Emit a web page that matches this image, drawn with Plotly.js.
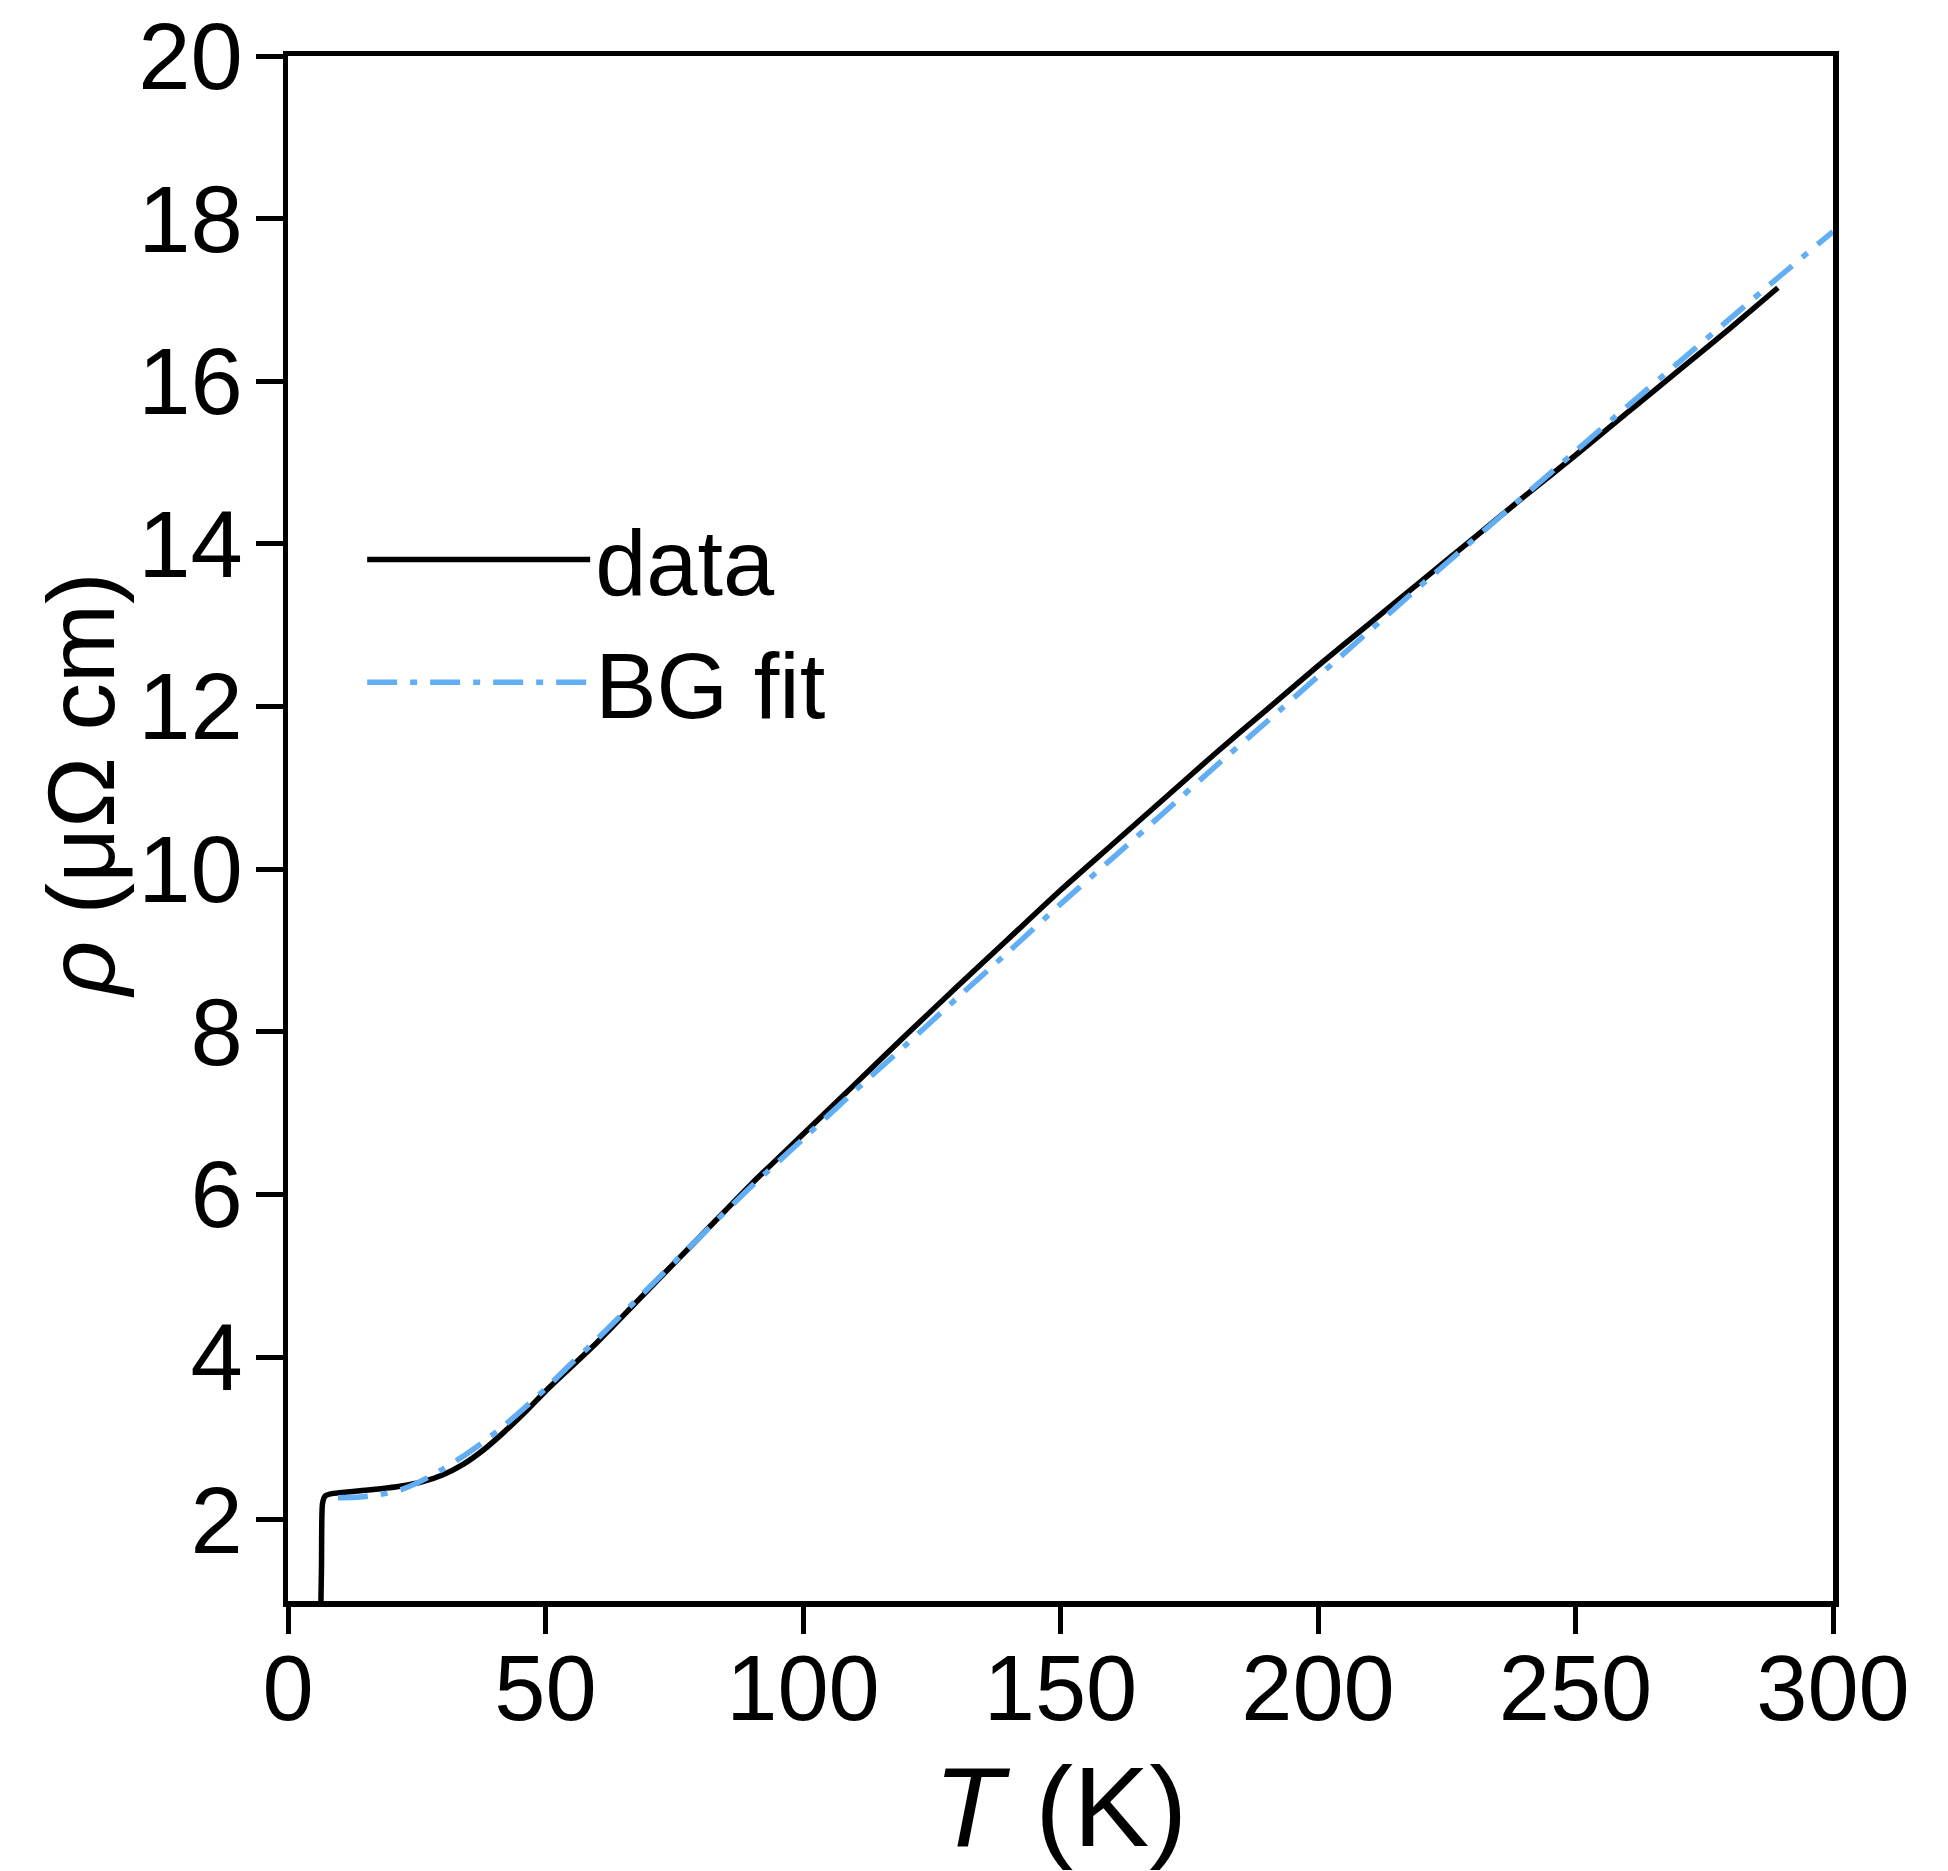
<!DOCTYPE html>
<html>
<head>
<meta charset="utf-8">
<script src="https://cdn.plot.ly/plotly-3.0.1.min.js"></script>
<style>html,body{margin:0;padding:0;background:#fff;}</style>
</head>
<body>
<div id="chart" style="width:1948px;height:1871px;"></div>
<script>
// Measured resistivity (data)
const dataT = [2, 5.6, 6.2, 6.5, 6.7, 7.2, 8.5, 10, 14, 18, 22, 26, 30, 34, 38, 42, 46, 50, 55, 60, 70, 80, 90, 100, 110, 120, 130, 140, 150, 160, 170, 180, 190, 200, 210, 220, 230, 240, 250, 260, 270, 280, 289.3];
const dataRho = [0, 0.05, 0.5, 1.4, 2.2, 2.29, 2.32, 2.33, 2.355, 2.38, 2.415, 2.465, 2.55, 2.68, 2.86, 3.08, 3.32, 3.58, 3.88, 4.18, 4.83, 5.48, 6.13, 6.74, 7.35, 7.96, 8.56, 9.15, 9.74, 10.30, 10.86, 11.42, 11.96, 12.50, 13.02, 13.54, 14.06, 14.58, 15.09, 15.61, 16.13, 16.65, 17.15];

// Bloch-Grüneisen fit
const fitT = [9.7, 14, 18, 22, 26, 30, 34, 38, 42, 46, 50, 55, 60, 70, 80, 90, 100, 110, 120, 130, 140, 150, 160, 170, 180, 190, 200, 210, 220, 230, 240, 250, 260, 270, 280, 290, 300];
const fitRho = [2.27, 2.28, 2.31, 2.37, 2.48, 2.62, 2.78, 2.96, 3.16, 3.38, 3.61, 3.92, 4.22, 4.85, 5.48, 6.10, 6.68, 7.27, 7.84, 8.42, 8.99, 9.57, 10.13, 10.69, 11.26, 11.81, 12.37, 12.93, 13.49, 14.04, 14.59, 15.14, 15.69, 16.23, 16.77, 17.31, 17.84];

const seriesNames = ['data', 'BG fit'];
const xTicks = [0, 50, 100, 150, 200, 250, 300];
const yTicks = [2, 4, 6, 8, 10, 12, 14, 16, 18, 20];

const FONT = 'Liberation Sans, Arial, Helvetica, sans-serif';

const traces = [
  {
    x: dataT, y: dataRho, name: seriesNames[0], type: 'scatter', mode: 'lines',
    line: {color: '#000000', width: 5.5, shape: 'spline', smoothing: 0.6}
  },
  {
    x: fitT, y: fitRho, name: seriesNames[1], type: 'scatter', mode: 'lines',
    line: {color: '#61aef5', width: 5.5, dash: '30px,13px,7px,13px', shape: 'spline', smoothing: 0.6}
  }
];

const layout = {
  width: 1948, height: 1871,
  margin: {l: 288, r: 115, t: 56, b: 270, pad: 0},
  paper_bgcolor: '#ffffff', plot_bgcolor: '#ffffff',
  font: {family: FONT, color: '#000000', size: 92},
  showlegend: true,
  legend: {
    x: 0.048, y: 0.717, xanchor: 'left', yanchor: 'top',
    bgcolor: 'rgba(0,0,0,0)', borderwidth: 0,
    font: {family: FONT, size: 92, color: '#000'},
    itemwidth: 223, tracegroupgap: 0
  },
  xaxis: {
    range: [0, 300], tickvals: xTicks, ticktext: xTicks.map(String),
    showgrid: false, zeroline: false,
    showline: true, linecolor: '#000', linewidth: 5.5, mirror: true,
    ticks: 'outside', ticklen: 27, tickwidth: 5, tickcolor: '#000',
    tickfont: {family: FONT, size: 92, color: '#000'},
    ticklabelstandoff: -24,
    title: {text: '<i>T</i> (K)', font: {family: FONT, size: 114, color: '#000'}, standoff: 30},
    automargin: false
  },
  yaxis: {
    range: [1, 20], tickvals: yTicks, ticktext: yTicks.map(String),
    showgrid: false, zeroline: false,
    showline: true, linecolor: '#000', linewidth: 5.5, mirror: true,
    ticks: 'outside', ticklen: 27, tickwidth: 5, tickcolor: '#000',
    tickfont: {family: FONT, size: 94, color: '#000'},
    ticklabelstandoff: -6,
    title: {text: ''},
    automargin: false
  },
  annotations: [
    {
      text: '<i>ρ</i> (μΩ cm)', xref: 'paper', yref: 'paper',
      x: -0.134, y: 0.528, xanchor: 'center', yanchor: 'middle',
      textangle: -90, showarrow: false,
      font: {family: FONT, size: 95, color: '#000'}
    }
  ]
};

Plotly.newPlot('chart', traces, layout, {staticPlot: true, displayModeBar: false});
</script>
</body>
</html>
